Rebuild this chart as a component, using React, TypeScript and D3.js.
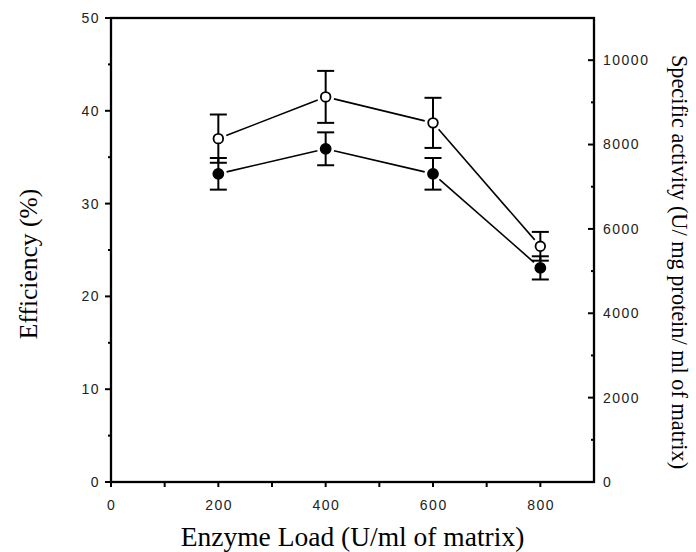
import React from "react";
import * as d3 from "d3";

const loads = [200, 400, 600, 800];
const efficiency = [37.0, 41.5, 38.7, 25.4];
const efficiencyErr = [2.6, 2.8, 2.7, 1.55];
const specificActivity = [7306, 7899, 7306, 5076];
const specificActivityErr = [375, 390, 375, 275];

const xTicks = [0, 200, 400, 600, 800];
const xMinor = [100, 300, 500, 700];
const yLeftTicks = [0, 10, 20, 30, 40, 50];
const yLeftMinor = [5, 15, 25, 35, 45];
const yRightTicks = [0, 2000, 4000, 6000, 8000, 10000];
const yRightMinor = [1000, 3000, 5000, 7000, 9000];

const W = 696;
const H = 552;
const L = 111, R = 594, T = 18, B = 482;

const sans = "'Liberation Sans', Arial, sans-serif";
const serif = "'Liberation Serif', 'Times New Roman', serif";

function Series({ pts, errs, filled, gap }: { pts: [number, number][]; errs: [number, number][]; filled: boolean; gap: number }) {
  const segs = [];
  for (let i = 0; i < pts.length - 1; i++) {
    const [x1, y1] = pts[i];
    const [x2, y2] = pts[i + 1];
    const dx = x2 - x1, dy = y2 - y1;
    const len = Math.hypot(dx, dy);
    const ux = dx / len, uy = dy / len;
    segs.push(
      <line key={"s" + i} x1={x1 + ux * gap} y1={y1 + uy * gap} x2={x2 - ux * gap} y2={y2 - uy * gap} stroke="#000" strokeWidth={1.6} />
    );
  }
  return (
    <g>
      {segs}
      {pts.map(([x, y], i) => {
        const [yt, yb] = errs[i];
        return (
          <g key={"e" + i}>
            <line x1={x} x2={x} y1={yt} y2={yb} stroke="#000" strokeWidth={2} />
            <line x1={x - 8.5} x2={x + 8.5} y1={yt} y2={yt} stroke="#000" strokeWidth={2} />
            <line x1={x - 8.5} x2={x + 8.5} y1={yb} y2={yb} stroke="#000" strokeWidth={2} />
          </g>
        );
      })}
      {pts.map(([x, y], i) => (
        <circle key={"c" + i} cx={x} cy={y} r={filled ? 5 : 4.8} fill={filled ? "#000" : "#fff"} stroke="#000" strokeWidth={1.8} />
      ))}
    </g>
  );
}

export default function App() {
  const x = d3.scaleLinear().domain([0, 900]).range([L, R]);
  const yL = d3.scaleLinear().domain([0, 50]).range([B, T]);
  const yR = d3.scaleLinear().domain([0, 11000]).range([B, T]);

  const openPts: [number, number][] = loads.map((d, i) => [x(d), yL(efficiency[i])]);
  const openErr: [number, number][] = loads.map((d, i) => [yL(efficiency[i] + efficiencyErr[i]), yL(efficiency[i] - efficiencyErr[i])]);
  const fillPts: [number, number][] = loads.map((d, i) => [x(d), yR(specificActivity[i])]);
  const fillErr: [number, number][] = loads.map((d, i) => [yR(specificActivity[i] + specificActivityErr[i]), yR(specificActivity[i] - specificActivityErr[i])]);

  return (
    <svg width={W} height={H} style={{ position: "absolute", left: 0, top: 0, background: "#fff" }}>
      <rect x={0} y={0} width={W} height={H} fill="#fff" />
      {/* frame */}
      <rect x={L} y={T} width={R - L} height={B - T} fill="none" stroke="#000" strokeWidth={2.3} />

      {/* left axis ticks */}
      {yLeftTicks.map((t) => (
        <g key={"yl" + t}>
          <line x1={L - 6} x2={L} y1={yL(t)} y2={yL(t)} stroke="#000" strokeWidth={2} />
          <text x={L - 11} y={yL(t)} dy="0.35em" textAnchor="end" fontFamily={sans} fontSize={14} letterSpacing={1.5} fill="#222">{t}</text>
        </g>
      ))}
      {yLeftMinor.map((t) => (
        <line key={"ylm" + t} x1={L - 3} x2={L} y1={yL(t)} y2={yL(t)} stroke="#000" strokeWidth={2} />
      ))}

      {/* right axis ticks (inward) */}
      {yRightTicks.map((t) => (
        <g key={"yr" + t}>
          {t > 0 && <line x1={R - 6} x2={R} y1={yR(t)} y2={yR(t)} stroke="#000" strokeWidth={2} />}
          <text x={R + 9} y={yR(t)} dy="0.35em" textAnchor="start" fontFamily={sans} fontSize={14} letterSpacing={1.5} fill="#222">{t}</text>
        </g>
      ))}
      {yRightMinor.map((t) => (
        <line key={"yrm" + t} x1={R - 3} x2={R} y1={yR(t)} y2={yR(t)} stroke="#000" strokeWidth={2} />
      ))}

      {/* x axis ticks */}
      {xTicks.map((t) => (
        <g key={"x" + t}>
          <line x1={x(t)} x2={x(t)} y1={B} y2={B + 5} stroke="#000" strokeWidth={2} />
          <text x={x(t) + 0.75} y={B + 28} textAnchor="middle" fontFamily={sans} fontSize={14} letterSpacing={1.5} fill="#222">{t}</text>
        </g>
      ))}
      {xMinor.map((t) => (
        <line key={"xm" + t} x1={x(t)} x2={x(t)} y1={B} y2={B + 5} stroke="#000" strokeWidth={2} />
      ))}

      <Series pts={openPts} errs={openErr} filled={false} gap={8.5} />
      <Series pts={fillPts} errs={fillErr} filled={true} gap={8.5} />

      {/* titles */}
      <text x={(L + R) / 2} y={546} textAnchor="middle" fontFamily={serif} fontSize={27.5} fill="#000">Enzyme Load (U/ml of matrix)</text>
      <text transform={`translate(37, 264) rotate(-90)`} textAnchor="middle" fontFamily={serif} fontSize={25.5} fill="#000">Efficiency (%)</text>
      <text transform={`translate(672, 262) rotate(90)`} textAnchor="middle" fontFamily={serif} fontSize={22.3} fill="#000">Specific activity (U/ mg protein/ ml of matrix)</text>
    </svg>
  );
}
